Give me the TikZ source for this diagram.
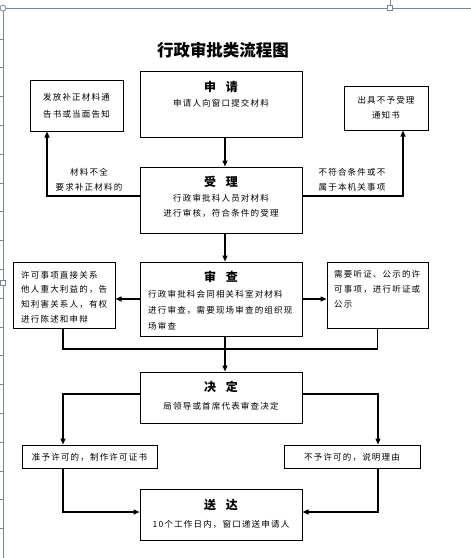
\documentclass[tikz,border=0pt]{standalone}
\usepackage{fontspec}
\newfontfamily\cjk{Noto Sans CJK SC}
\newfontfamily\cjksp{Noto Sans CJK SC}[LetterSpace=14]
\usetikzlibrary{arrows.meta,calc}
\tikzset{
  box/.style={draw, line width=1pt, inner sep=0, rectangle},
  txt/.style={font=\cjksp\fontsize{8.5}{11}\selectfont, inner sep=0},
  ttl/.style={font=\cjk\bfseries\fontsize{12}{14}\selectfont, inner sep=0},
  arr/.style={line width=1.3pt, -{Triangle[length=6pt,width=5pt]}},
  ln/.style={line width=1.3pt},
  frame/.style={draw=black!45!cyan!40!gray, line width=0.8pt}
}
\begin{document}
\begin{tikzpicture}[x=1pt,y=-1pt]
\useasboundingbox (0,0) rectangle (471,558);
% frame
\draw[frame] (3,8) -- (471,8);
\draw[frame] (3,8) -- (3,558);
\draw[frame] (390,0) -- (390,5);
\foreach \k in {0,...,17} {\draw[frame] (0,39+28.8*\k) -- (3,39+28.8*\k);}
\draw[frame, fill=white] (3,8) circle (3);
\draw[frame, fill=white] (387.5,5.5) rectangle (392.5,10.5);
\draw[frame, fill=white] (0.5,280.5) rectangle (5.5,285.5);
% title
\node[font=\cjk\bfseries\fontsize{16.5}{18}\selectfont, inner sep=0] (title) at (223,50) {行政审批类流程图};
% boxes
\node[box, minimum width=162, minimum height=66] (sq) at (221,104) {};
\node[box, minimum width=93, minimum height=51] (fb) at (76.5,105.5) {};
\node[box, minimum width=84, minimum height=44] (cj) at (386,108) {};
\node[box, minimum width=162, minimum height=66] (sl) at (221,200) {};
\node[box, minimum width=162, minimum height=74] (sc) at (221,299) {};
\node[box, minimum width=102, minimum height=66] (lb) at (64,295) {};
\node[box, minimum width=101, minimum height=66] (rb) at (377.5,295) {};
\node[box, minimum width=162, minimum height=51] (jd) at (221,397.5) {};
\node[box, minimum width=135, minimum height=23] (lz) at (89.5,456.5) {};
\node[box, minimum width=136, minimum height=23] (rz) at (352,456.5) {};
\node[box, minimum width=162, minimum height=51] (sd) at (221,514.5) {};
% texts
\node[ttl] (sqt) at (221,87) {申\hspace{0.8em}请};
\node[txt] (sqs) at (221,103) {申请人向窗口提交材料};
\node[txt] (fb1) at (76.5,97) {发放补正材料通};
\node[txt] (fb2) at (76.5,114) {告书或当面告知};
\node[txt] (cj1) at (386,100) {出具不予受理};
\node[txt] (cj2) at (386,115) {通知书};
\node[ttl] (slt) at (221,182) {受\hspace{0.8em}理};
\node[txt] (sl1) at (221,198) {行政审批科人员对材料};
\node[txt] (sl2) at (221,213) {进行审核，符合条件的受理};
\node[txt] (ll1) at (89,172) {材料不全};
\node[txt] (ll2) at (89,187) {要求补正材料的};
\node[txt] (rl1) at (352,172) {不符合条件或不};
\node[txt] (rl2) at (352,187) {属于本机关事项};
\node[ttl] (sct) at (221,277) {审\hspace{0.8em}查};
\node[txt, anchor=west] (sc1) at (148,294) {行政审批科会同相关科室对材料};
\node[txt, anchor=west] (sc2) at (148,310) {进行审查，需要现场审查的组织现};
\node[txt, anchor=west] (sc3) at (148,326) {场审查};
\node[txt, anchor=west] (lb1) at (21,275) {许可事项直接关系};
\node[txt, anchor=west] (lb2) at (21,289) {他人重大利益的，告};
\node[txt, anchor=west] (lb3) at (21,304) {知利害关系人，有权};
\node[txt, anchor=west] (lb4) at (21,319) {进行陈述和申辩};
\node[txt, anchor=west] (rb1) at (334,274) {需要听证、公示的许};
\node[txt, anchor=west] (rb2) at (334,289) {可事项，进行听证或};
\node[txt, anchor=west] (rb3) at (334,304) {公示};
\node[ttl] (jdt) at (221,387) {决\hspace{0.8em}定};
\node[txt] (jd1) at (221,406) {局领导或首席代表审查决定};
\node[txt] (lzt) at (89.5,457) {准予许可的，制作许可证书};
\node[txt] (rzt) at (352,457) {不予许可的，说明理由};
\node[ttl] (sdt) at (221,505) {送\hspace{0.8em}达};
\node[txt] (sd1) at (221,524) {10个工作日内，窗口递送申请人};
% connectors
\draw[arr] ([xshift=4]sq.south) -- ([xshift=4]sl.north);
\draw[arr] ([yshift=4]sl.west) -| ([xshift=-29.5]fb.south);
\draw[arr] ([yshift=4]sl.east) -| ([xshift=17]cj.south);
\draw[arr] ([xshift=4]sl.south) -- ([xshift=4]sc.north);
\draw[arr] (sc.west) -- (sc.west -| lb.east);
\draw[arr] (sc.east) -- (sc.east -| rb.west);
\coordinate (m) at (225,349);
\draw[ln] ([xshift=-1]lb.south) |- (m) -| (rb.south);
\draw[arr] ([xshift=4]sc.south) -- ([xshift=4]jd.north);
\draw[arr] ([yshift=3.5]jd.west) -| ([xshift=-26.5]lz.north);
\draw[arr] ([yshift=3.5]jd.east) -| ([xshift=26]rz.north);
\draw[arr] ([xshift=-26.5]lz.south) |- ([yshift=2.5]sd.west);
\draw[arr] ([xshift=26]rz.south) |- ([yshift=2.5]sd.east);
\end{tikzpicture}
\end{document}
